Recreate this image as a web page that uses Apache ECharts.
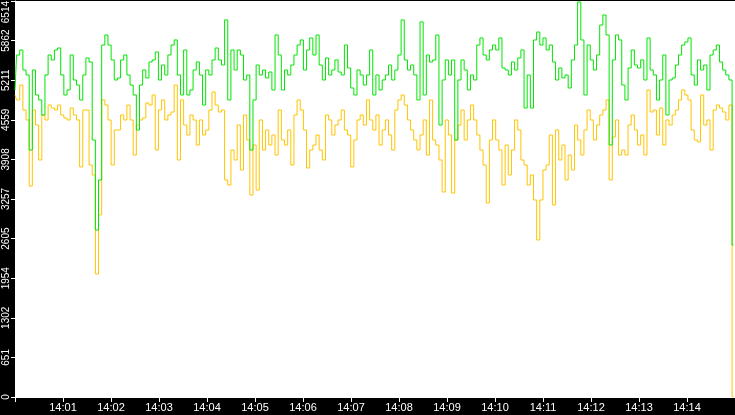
<!DOCTYPE html>
<html>
<head>
<meta charset="utf-8">
<script src="https://cdn.jsdelivr.net/npm/echarts@6/dist/echarts.min.js"></script>
<style>html,body{margin:0;padding:0;background:#000}#c{width:735px;height:415px}</style>
</head>
<body>
<div id="c"></div>
<script>
// Sampling: start 14:00:00, one sample every ~3.94 s
const startTime = '14:00:00';
const sampleStepMs = 3940;
const xTickLabels = ['14:01','14:02','14:03','14:04','14:05','14:06','14:07','14:08','14:09','14:10','14:11','14:12','14:13','14:14'];
const yMax = 6514;
const yStep = 651.4;

const greenSeries = [
5050,5626,5708,5379,5297,4063,5379,4968,4886,4639,5297,5626,5544,5708,5741,5297,4968,5050,5626,5215,5132,4886,5297,5577,5511,4228,2747,3570,5790,5955,5790,5544,5215,5248,5544,5626,5297,5132,
4968,4392,5132,5379,5248,5511,5544,5675,5215,5461,5297,5626,5790,5873,5297,4968,5708,4968,5050,5379,5511,5297,4803,5379,5297,5544,5741,5544,5461,6202,4886,5708,5379,5708,5626,5215,5297,4063,
4886,5461,5297,5379,5248,5346,5050,5955,5626,5050,5379,5297,5461,5626,5790,5873,5379,5708,5906,5626,5955,5461,5215,5577,5297,5379,5544,5346,5297,5790,5412,5083,4968,5379,5297,5132,5297,5708,
4968,5297,5050,5215,5297,5461,5215,5379,5626,6202,5544,5379,5461,5297,4886,6170,4968,5626,5511,5544,5955,4474,5215,5544,5297,5544,4228,5215,5544,5379,5050,5297,5215,5790,5906,5626,5544,5708,
5790,5708,5906,5412,5379,5297,5511,5379,5577,5708,4754,5297,4754,5873,6004,5790,5906,5708,5790,5511,5215,5412,5248,5297,5083,5544,5790,6498,5873,4968,5790,5544,5379,5626,6119,6284,5955,4145,
5544,5955,5873,5132,4886,5412,5708,5461,5412,5544,5215,5906,5379,5297,4886,5215,5626,4639,5215,5248,5461,5626,5790,5840,5906,5297,5132,5544,5379,5461,5050,5626,5708,5790,5511,5379,5297,5215,2500
];

const yellowSeries = [
4968,4886,5132,4721,4557,3470,4721,4474,3899,4639,4557,4803,4754,4721,4803,4639,4590,4557,4754,4639,4557,3784,4721,4721,3816,3652,2023,2995,4886,4803,4557,3816,4392,4392,4639,4557,4803,4557,
3981,4474,4557,4590,4836,4803,4968,4063,4721,4886,4557,4639,4688,5132,3899,4886,4474,4310,4639,4557,4145,4557,4310,4392,4721,5017,4803,4688,4721,3570,3487,4063,3899,4474,3734,4639,4228,3323,
4145,3405,4557,4063,4392,4145,4310,3981,4721,4228,4145,4392,3816,4639,4886,4721,4392,3767,4063,4145,4310,4063,3899,4639,4557,4310,4474,4557,4721,4392,4310,3784,4228,4557,4639,4474,4886,4557,
4392,4639,4145,4392,4557,4310,4063,4721,4886,4968,4803,4557,4392,4228,4063,4310,4557,3981,4886,4228,4145,3899,3372,4557,4310,3355,4228,4474,4721,4228,4557,4803,4557,4310,4063,3816,3191,4228,
4557,4228,4063,3487,4145,3652,4063,4557,4392,3899,3816,3487,3652,3241,2583,3241,3734,3816,4310,3159,4392,3899,4145,3570,3981,3734,4474,4228,3981,4392,4721,4557,4228,4474,4639,4721,4886,3570,
4277,4557,3981,4063,3981,4474,4639,4392,4145,4310,3981,5050,4688,4721,4310,4754,4145,4557,4474,4639,4721,4886,5050,4968,4886,4392,4228,4195,4968,4474,4557,4063,4721,4803,4754,4688,4557,4803,0
];

const base = new Date(2024, 0, 1, 14, 0, 0).getTime();
const endTime = base + 15 * 60000;
const times = greenSeries.map((_, i) => base + i * sampleStepMs);
const greenData = greenSeries.map((v, i) => [times[i], v]);
const yellowData = yellowSeries.map((v, i) => [times[i], v]);

const chart = echarts.init(document.getElementById('c'));
chart.setOption({
  animation: false,
  backgroundColor: '#000',
  grid: { left: 15, right: 0, top: 1, bottom: 18, show: true, backgroundColor: '#fff', borderWidth: 0, outerBoundsMode: 'none', containLabel: false },
  xAxis: {
    type: 'time', min: base, max: endTime, interval: 60000, minInterval: 60000, maxInterval: 60000, splitNumber: 15,
    axisLine: { lineStyle: { color: '#fff', width: 1 } },
    axisTick: { show: true, length: 5, lineStyle: { color: '#fff' } },
    splitLine: { show: false },
    axisLabel: {
      color: '#fff', fontFamily: 'Liberation Sans', fontSize: 11, margin: 5, hideOverlap: false, interval: 0,
      showMinLabel: false, showMaxLabel: false,
      formatter: function (v) {
        const d = new Date(v);
        const s = String(d.getHours()).padStart(2,'0') + ':' + String(d.getMinutes()).padStart(2,'0');
        return xTickLabels.indexOf(s) >= 0 ? s : '';
      }
    }
  },
  yAxis: {
    type: 'value', min: 0, max: yMax, interval: yStep,
    axisLine: { show: true, lineStyle: { color: '#fff' } },
    axisTick: { show: true, length: 4, lineStyle: { color: '#fff' } },
    splitLine: { show: false },
    axisLabel: {
      color: '#fff', fontFamily: 'Liberation Sans Narrow, Liberation Sans', fontSize: 10, rotate: 90, margin: 4,
      alignMaxLabel: 'right',
      formatter: function (v) { return String(Math.floor(v + 1e-6)); }
    }
  },
  series: [
    { type: 'line', step: 'middle', data: yellowData, showSymbol: false, lineStyle: { color: '#ffc400', width: 1 }, itemStyle: { color: '#ffc400' }, z: 2 },
    { type: 'line', step: 'middle', data: greenData, showSymbol: false, lineStyle: { color: '#00e600', width: 1 }, itemStyle: { color: '#00e600' }, z: 3 }
  ]
});
</script>
</body>
</html>
